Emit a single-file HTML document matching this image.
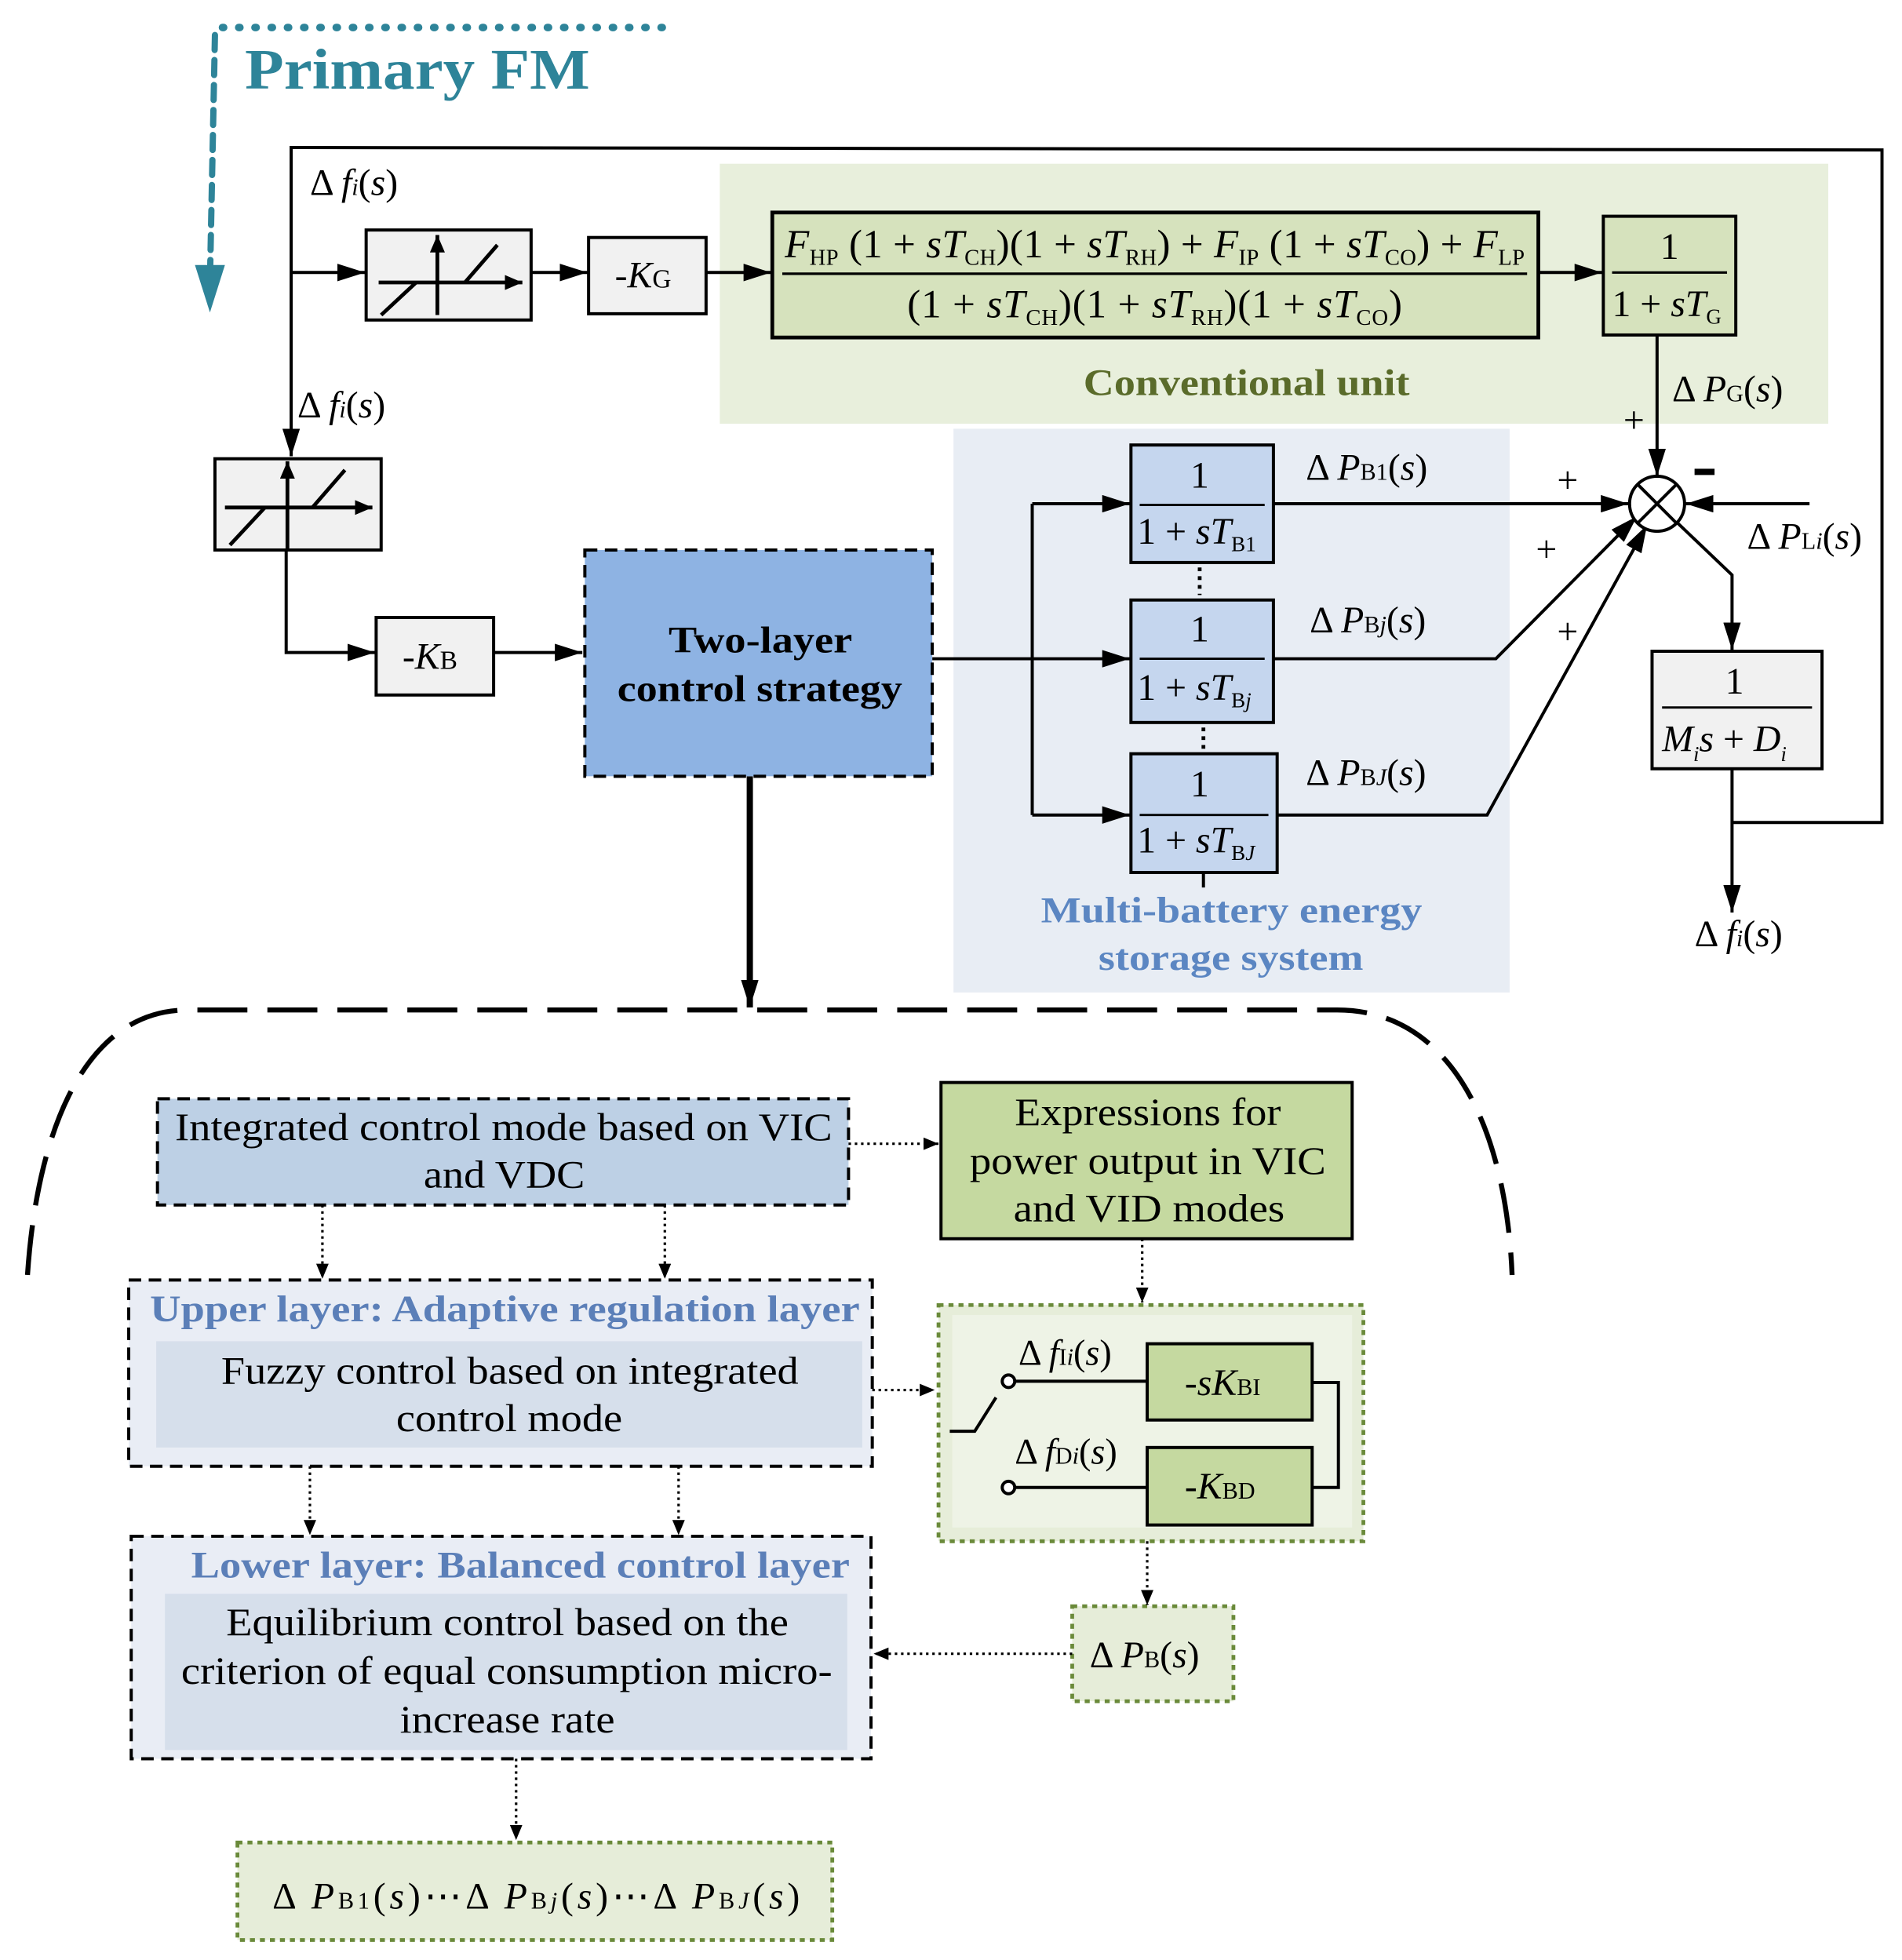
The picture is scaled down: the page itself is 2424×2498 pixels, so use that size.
<!DOCTYPE html>
<html><head><meta charset="utf-8"><style>
html,body{margin:0;padding:0;background:#fff}
svg{display:block}
text{font-family:"Liberation Serif",serif}
.i{font-style:italic}
.b{font-weight:bold}
</style></head><body>
<svg width="2424" height="2498" viewBox="0 0 1522 1568" preserveAspectRatio="none" xmlns="http://www.w3.org/2000/svg">
<defs>
<marker id="a" markerWidth="14" markerHeight="12" refX="14" refY="6" orient="auto" markerUnits="userSpaceOnUse" viewBox="0 0 14 12"><path d="M0,0 L14,6 L0,12z" fill="#000"/></marker>
<marker id="A" markerWidth="22" markerHeight="14" refX="22" refY="7" orient="auto" markerUnits="userSpaceOnUse" viewBox="0 0 22 14"><path d="M0,0 L22,7 L0,14z" fill="#000"/></marker>
<marker id="s" markerWidth="12" markerHeight="10" refX="12" refY="5" orient="auto" markerUnits="userSpaceOnUse" viewBox="0 0 12 10"><path d="M0,0 L12,5 L0,10z" fill="#000"/></marker>
</defs>

<rect x="576" y="131" width="887" height="208" fill="#e8efdc"/>
<rect x="763" y="343" width="445" height="451" fill="#e8edf4"/>

<path d="M530,22 L172,22" stroke="#2e8499" stroke-width="6" stroke-dasharray="1,12" stroke-linecap="round" fill="none"/>
<path d="M172,28 L168,225" stroke="#2e8499" stroke-width="5" stroke-dasharray="12,8" stroke-linecap="round" fill="none"/>
<path d="M156,212 L180,212 L168,250z" fill="#2e8499"/>
<text x="196" y="71" font-size="46" class="b" fill="#2e8499" textLength="276" lengthAdjust="spacingAndGlyphs">Primary FM</text>

<g stroke="#000" stroke-width="2.5" fill="none">
<path d="M1386,658 L1506,658 L1506,120 L233,118 L233,365" marker-end="url(#A)"/>
<path d="M233,218 L292,218" marker-end="url(#A)"/>
<path d="M425,218 L470,218" marker-end="url(#A)"/>
<path d="M565,218 L617,218" marker-end="url(#A)"/>
<path d="M1231,218 L1282,218" marker-end="url(#A)"/>
<path d="M1326,268 L1326,381" marker-end="url(#A)"/>
<path d="M1448,403 L1349,403" marker-end="url(#A)"/>
<path d="M1342,418 L1386,460 L1386,520" marker-end="url(#A)"/>
<path d="M1386,615 L1386,730" marker-end="url(#A)"/>
<path d="M229,440 L229,522 L300,522" marker-end="url(#A)"/>
<path d="M395,522 L466,522" marker-end="url(#A)"/>
<path d="M746,527 L904,527" marker-end="url(#A)"/>
<path d="M826,403 L826,652"/>
<path d="M826,403 L904,403" marker-end="url(#A)"/>
<path d="M826,652 L904,652" marker-end="url(#A)"/>
<path d="M1019,403 L1303,403" marker-end="url(#A)"/>
<path d="M1019,527 L1197,527 L1310,413" marker-end="url(#A)"/>
<path d="M1022,652 L1190,652 L1318,420" marker-end="url(#A)"/>
<path d="M963,698 L963,710"/>
</g>
<line x1="600" y1="621" x2="600" y2="806" stroke="#000" stroke-width="5" marker-end="url(#A)"/>

<circle cx="1326" cy="403" r="22" fill="#fff" stroke="#000" stroke-width="2.5"/>
<path d="M1310,387 L1342,419 M1342,387 L1310,419" stroke="#000" stroke-width="2.5"/>
<g font-size="30" font-family="Liberation Sans,sans-serif">
<text x="1299" y="346">+</text><text x="1246" y="394">+</text><text x="1229" y="449">+</text><text x="1246" y="515">+</text>
</g>
<rect x="1356" y="375" width="16" height="5" fill="#000"/>

<g stroke="#000" stroke-width="2.5">
<rect x="293" y="184" width="132" height="72" fill="#f1f1f1"/>
<rect x="172" y="367" width="133" height="73" fill="#f1f1f1"/>
</g>
<g stroke="#000" stroke-width="3" fill="none">
<path d="M303,226 L418,226" marker-end="url(#a)"/><path d="M350,252 L350,188" marker-end="url(#a)"/><path d="M305,252 L333,226 M372,226 L398,196"/>
<path d="M180,406 L298,406" marker-end="url(#a)"/><path d="M230,439 L230,369" marker-end="url(#a)"/><path d="M184,436 L212,406 M250,406 L276,376"/>
</g>

<rect x="471" y="190" width="94" height="61" fill="#f1f1f1" stroke="#000" stroke-width="2.5"/>
<text x="492" y="230" font-size="30">-<tspan class="i">K</tspan><tspan font-size="21">G</tspan></text>
<rect x="301" y="494" width="94" height="62" fill="#f1f1f1" stroke="#000" stroke-width="2.5"/>
<text x="322" y="535" font-size="30">-<tspan class="i">K</tspan><tspan font-size="21">B</tspan></text>

<rect x="618" y="170" width="613" height="100" fill="#d6e2bd" stroke="#000" stroke-width="3"/>
<line x1="626" y1="219" x2="1222" y2="219" stroke="#000" stroke-width="2"/>
<text x="628" y="206" font-size="32" textLength="592" lengthAdjust="spacing"><tspan class="i">F</tspan><tspan font-size="18" dy="6">HP</tspan><tspan dy="-6"> (1 + </tspan><tspan class="i">sT</tspan><tspan font-size="18" dy="6">CH</tspan><tspan dy="-6">)(1 + </tspan><tspan class="i">sT</tspan><tspan font-size="18" dy="6">RH</tspan><tspan dy="-6">) + </tspan><tspan class="i">F</tspan><tspan font-size="18" dy="6">IP</tspan><tspan dy="-6"> (1 + </tspan><tspan class="i">sT</tspan><tspan font-size="18" dy="6">CO</tspan><tspan dy="-6">) + </tspan><tspan class="i">F</tspan><tspan font-size="18" dy="6">LP</tspan></text>
<text x="726" y="254" font-size="32" textLength="396" lengthAdjust="spacing"><tspan>(1 + </tspan><tspan class="i">sT</tspan><tspan font-size="18" dy="6">CH</tspan><tspan dy="-6">)(1 + </tspan><tspan class="i">sT</tspan><tspan font-size="18" dy="6">RH</tspan><tspan dy="-6">)(1 + </tspan><tspan class="i">sT</tspan><tspan font-size="18" dy="6">CO</tspan><tspan dy="-6">)</tspan></text>

<rect x="1283" y="173" width="106" height="95" fill="#d6e2bd" stroke="#000" stroke-width="2.5"/>
<line x1="1290" y1="218" x2="1382" y2="218" stroke="#000" stroke-width="2"/>
<text x="1336" y="207" font-size="30" text-anchor="middle">1</text>
<text x="1290" y="253" font-size="30">1 + <tspan class="i">sT</tspan><tspan font-size="17" dy="6">G</tspan></text>
<text x="867" y="316" font-size="30" class="b" fill="#5a6b2a" textLength="261" lengthAdjust="spacingAndGlyphs">Conventional unit</text>

<g stroke="#000" stroke-width="2.5" fill="#c5d6ee">
<rect x="905" y="356" width="114" height="94"/>
<rect x="905" y="480" width="114" height="98"/>
<rect x="905" y="603" width="117" height="95"/>
</g>
<g stroke="#000" stroke-width="1.8">
<line x1="912" y1="404" x2="1012" y2="404"/><line x1="912" y1="527" x2="1012" y2="527"/><line x1="912" y1="652" x2="1015" y2="652"/>
</g>
<g font-size="30">
<text x="960" y="390" text-anchor="middle">1</text>
<text x="910" y="435">1 + <tspan class="i">sT</tspan><tspan font-size="17" dy="6">B1</tspan></text>
<text x="960" y="513" text-anchor="middle">1</text>
<text x="910" y="560">1 + <tspan class="i">sT</tspan><tspan font-size="17" dy="6">B<tspan class="i">j</tspan></tspan></text>
<text x="960" y="637" text-anchor="middle">1</text>
<text x="910" y="682">1 + <tspan class="i">sT</tspan><tspan font-size="17" dy="6">B<tspan class="i">J</tspan></tspan></text>
</g>
<path d="M960,454 L960,476 M963,582 L963,600" stroke="#000" stroke-width="3" stroke-dasharray="3,4"/>
<text x="833" y="738" font-size="29" class="b" fill="#5b86c2" textLength="305" lengthAdjust="spacingAndGlyphs">Multi-battery energy</text>
<text x="879" y="776" font-size="29" class="b" fill="#5b86c2" textLength="212" lengthAdjust="spacingAndGlyphs">storage system</text>

<rect x="1322" y="521" width="136" height="94" fill="#f1f1f1" stroke="#000" stroke-width="2.5"/>
<line x1="1330" y1="566" x2="1450" y2="566" stroke="#000" stroke-width="1.8"/>
<text x="1388" y="555" font-size="30" text-anchor="middle">1</text>
<text x="1330" y="601" font-size="30"><tspan class="i">M</tspan><tspan font-size="17" dy="8" class="i">i</tspan><tspan dy="-8" class="i">s</tspan> + <tspan class="i">D</tspan><tspan font-size="17" dy="8" class="i">i</tspan></text>

<g font-size="30">
<text x="248" y="156">Δ <tspan class="i">f</tspan><tspan font-size="19" class="i">i</tspan>(<tspan class="i">s</tspan>)</text>
<text x="238" y="334">Δ <tspan class="i">f</tspan><tspan font-size="19" class="i">i</tspan>(<tspan class="i">s</tspan>)</text>
<text x="1338" y="321">Δ <tspan class="i">P</tspan><tspan font-size="19">G</tspan>(<tspan class="i">s</tspan>)</text>
<text x="1045" y="384">Δ <tspan class="i">P</tspan><tspan font-size="19">B1</tspan>(<tspan class="i">s</tspan>)</text>
<text x="1048" y="506">Δ <tspan class="i">P</tspan><tspan font-size="19">B<tspan class="i">j</tspan></tspan>(<tspan class="i">s</tspan>)</text>
<text x="1045" y="628">Δ <tspan class="i">P</tspan><tspan font-size="19">B<tspan class="i">J</tspan></tspan>(<tspan class="i">s</tspan>)</text>
<text x="1398" y="439">Δ <tspan class="i">P</tspan><tspan font-size="19">L<tspan class="i">i</tspan></tspan>(<tspan class="i">s</tspan>)</text>
<text x="1356" y="757">Δ <tspan class="i">f</tspan><tspan font-size="19" class="i">i</tspan>(<tspan class="i">s</tspan>)</text>
</g>

<rect x="468" y="440" width="278" height="181" fill="#8eb3e3" stroke="#000" stroke-width="2.5" stroke-dasharray="10,6"/>
<text x="535" y="522" font-size="30" class="b" textLength="147" lengthAdjust="spacingAndGlyphs">Two-layer</text>
<text x="494" y="561" font-size="30" class="b" textLength="228" lengthAdjust="spacingAndGlyphs">control strategy</text>

<path d="M22,1020 C30,900 70,808 150,808 L1070,808 C1160,808 1205,900 1210,1020" fill="none" stroke="#000" stroke-width="4" stroke-dasharray="40,16"/>

<rect x="126" y="879" width="553" height="85" fill="#bdd0e5" stroke="#000" stroke-width="2.5" stroke-dasharray="10,6"/>
<text x="140" y="912" font-size="31" textLength="526" lengthAdjust="spacingAndGlyphs">Integrated control mode based on VIC</text>
<text x="339" y="950" font-size="31" textLength="129" lengthAdjust="spacingAndGlyphs">and VDC</text>

<rect x="753" y="866" width="329" height="125" fill="#c5d9a0" stroke="#000" stroke-width="2.5"/>
<text x="812" y="900" font-size="31" textLength="213" lengthAdjust="spacingAndGlyphs">Expressions for</text>
<text x="776" y="939" font-size="31" textLength="285" lengthAdjust="spacingAndGlyphs">power output in VIC</text>
<text x="811" y="977" font-size="31" textLength="217" lengthAdjust="spacingAndGlyphs">and VID modes</text>

<rect x="103" y="1024" width="595" height="149" fill="#e9edf5" stroke="#000" stroke-width="2.5" stroke-dasharray="10,6"/>
<text x="120" y="1057" font-size="30" class="b" fill="#5b7fb8" textLength="568" lengthAdjust="spacingAndGlyphs">Upper layer: Adaptive regulation layer</text>
<rect x="125" y="1073" width="565" height="85" fill="#d6dfeb"/>
<text x="177" y="1107" font-size="31" textLength="462" lengthAdjust="spacingAndGlyphs">Fuzzy control based on integrated</text>
<text x="317" y="1145" font-size="31" textLength="181" lengthAdjust="spacingAndGlyphs">control mode</text>

<rect x="105" y="1229" width="592" height="178" fill="#e9edf5" stroke="#000" stroke-width="2.5" stroke-dasharray="10,6"/>
<text x="153" y="1262" font-size="30" class="b" fill="#5b7fb8" textLength="527" lengthAdjust="spacingAndGlyphs">Lower layer: Balanced control layer</text>
<rect x="132" y="1275" width="546" height="125" fill="#d6dfeb"/>
<text x="181" y="1308" font-size="31" textLength="450" lengthAdjust="spacingAndGlyphs">Equilibrium control based on the</text>
<text x="145" y="1347" font-size="31" textLength="521" lengthAdjust="spacingAndGlyphs">criterion of equal consumption micro-</text>
<text x="320" y="1386" font-size="31" textLength="172" lengthAdjust="spacingAndGlyphs">increase rate</text>

<rect x="751" y="1044" width="340" height="189" fill="#e6edd9" stroke="#6a8a3a" stroke-width="3" stroke-dasharray="4,4"/>
<rect x="762" y="1052" width="320" height="170" fill="#eef3e6"/>
<rect x="918" y="1075" width="132" height="61" fill="#c5d9a0" stroke="#000" stroke-width="2.5"/>
<rect x="918" y="1158" width="132" height="62" fill="#c5d9a0" stroke="#000" stroke-width="2.5"/>
<text x="948" y="1116" font-size="30">-<tspan class="i">sK</tspan><tspan font-size="19">BI</tspan></text>
<text x="948" y="1199" font-size="30">-<tspan class="i">K</tspan><tspan font-size="19">BD</tspan></text>
<g stroke="#000" stroke-width="2.5" fill="none">
<path d="M812,1105 L918,1105 M812,1190 L918,1190 M1050,1106 L1071,1106 L1071,1190 L1050,1190"/>
<path d="M760,1145 L780,1145 L797,1118"/>
<circle cx="807" cy="1105" r="5" fill="#fff"/><circle cx="807" cy="1190" r="5" fill="#fff"/>
</g>
<text x="815" y="1092" font-size="29">Δ <tspan class="i">f</tspan><tspan font-size="19">I<tspan class="i">i</tspan></tspan>(<tspan class="i">s</tspan>)</text>
<text x="812" y="1171" font-size="29">Δ <tspan class="i">f</tspan><tspan font-size="19">D<tspan class="i">i</tspan></tspan>(<tspan class="i">s</tspan>)</text>

<rect x="858" y="1285" width="129" height="76" fill="#e6edd9" stroke="#6a8a3a" stroke-width="3" stroke-dasharray="4,4"/>
<text x="872" y="1334" font-size="30">Δ <tspan class="i">P</tspan><tspan font-size="19">B</tspan>(<tspan class="i">s</tspan>)</text>

<rect x="190" y="1474" width="476" height="78" fill="#e6edd9" stroke="#6a8a3a" stroke-width="3" stroke-dasharray="4,4"/>
<text x="218" y="1527" font-size="30" textLength="422" lengthAdjust="spacing">Δ <tspan class="i">P</tspan><tspan font-size="19">B1</tspan>(<tspan class="i">s</tspan>)⋯Δ <tspan class="i">P</tspan><tspan font-size="19">B<tspan class="i">j</tspan></tspan>(<tspan class="i">s</tspan>)⋯Δ <tspan class="i">P</tspan><tspan font-size="19">B<tspan class="i">J</tspan></tspan>(<tspan class="i">s</tspan>)</text>

<g stroke="#000" stroke-width="2" stroke-dasharray="2,3" fill="none">
<path d="M679,915 L751,915" marker-end="url(#s)"/>
<path d="M258,964 L258,1023" marker-end="url(#s)"/>
<path d="M532,964 L532,1023" marker-end="url(#s)"/>
<path d="M698,1112 L748,1112" marker-end="url(#s)"/>
<path d="M914,991 L914,1042" marker-end="url(#s)"/>
<path d="M918,1233 L918,1284" marker-end="url(#s)"/>
<path d="M858,1323 L699,1323" marker-end="url(#s)"/>
<path d="M248,1173 L248,1228" marker-end="url(#s)"/>
<path d="M543,1173 L543,1228" marker-end="url(#s)"/>
<path d="M413,1407 L413,1472" marker-end="url(#s)"/>
</g>
</svg>
</body></html>
